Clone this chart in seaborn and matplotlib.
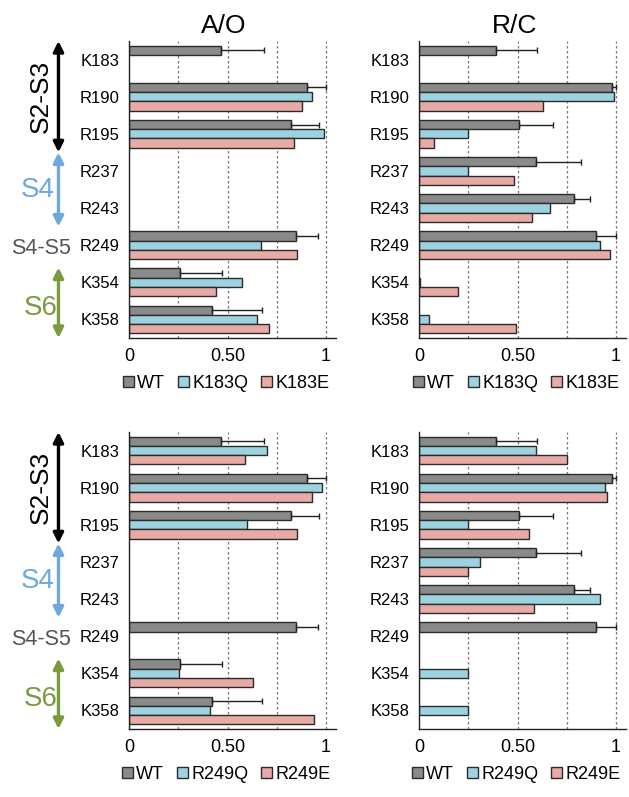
import numpy as np
import pandas as pd
import matplotlib
matplotlib.use("Agg")
import matplotlib.pyplot as plt
import seaborn as sns

# residues, top to bottom
residues = ["K183", "R190", "R195", "R237", "R243", "R249", "K354", "K358"]
nan = np.nan

# wild type (shared by both rows)
wt_ao = [0.465, 0.905, 0.82, nan, nan, 0.85, 0.26, 0.42]
wt_ao_err = [0.22, 0.095, 0.145, nan, nan, 0.11, 0.21, 0.255]
wt_rc = [0.39, 0.98, 0.51, 0.595, 0.785, 0.90, nan, nan]
wt_rc_err = [0.21, 0.02, 0.17, 0.225, 0.085, 0.10, nan, nan]

# K183 mutants
k183q_ao = [nan, 0.93, 0.99, nan, nan, 0.67, 0.575, 0.65]
k183e_ao = [nan, 0.88, 0.84, nan, nan, 0.855, 0.44, 0.71]
k183q_rc = [nan, 0.99, 0.25, 0.25, 0.665, 0.92, 0.005, 0.05]
k183e_rc = [nan, 0.63, 0.075, 0.48, 0.575, 0.968, 0.20, 0.49]

# R249 mutants
r249q_ao = [0.70, 0.98, 0.60, nan, nan, nan, 0.255, 0.41]
r249e_ao = [0.59, 0.93, 0.855, nan, nan, nan, 0.63, 0.94]
r249q_rc = [0.595, 0.945, 0.25, 0.31, 0.92, nan, 0.25, 0.25]
r249e_rc = [0.75, 0.955, 0.56, 0.25, 0.585, nan, nan, nan]

colors = ["#8a8a8a", "#9dd3e0", "#e8aaa5"]

sns.set_style("white")
plt.rcParams["font.family"] = ["Liberation Sans", "DejaVu Sans"]
plt.rcParams.update({"text.color": "black", "axes.labelcolor": "black",
                     "xtick.color": "black", "ytick.color": "black"})

fig = plt.figure(figsize=(6.29, 7.97), dpi=100)

W = 1.05 * 197 / 629
H = 297 / 797
positions = {
    (0, 0): [129 / 629, 1 - 338 / 797, W, H],
    (0, 1): [419 / 629, 1 - 338 / 797, W, H],
    (1, 0): [129 / 629, 1 - 729 / 797, W, H],
    (1, 1): [419 / 629, 1 - 729 / 797, W, H],
}

panels = [
    ((0, 0), "K183", wt_ao, wt_ao_err, k183q_ao, k183e_ao, "A/O"),
    ((0, 1), "K183", wt_rc, wt_rc_err, k183q_rc, k183e_rc, "R/C"),
    ((1, 0), "R249", wt_ao, wt_ao_err, r249q_ao, r249e_ao, None),
    ((1, 1), "R249", wt_rc, wt_rc_err, r249q_rc, r249e_rc, None),
]


def draw_panel(ax, mut, wt, wt_err, q, e, title):
    labels = ["WT", mut + "Q", mut + "E"]
    df = pd.DataFrame({
        "residue": residues * 3,
        "value": list(wt) + list(q) + list(e),
        "group": [labels[0]] * 8 + [labels[1]] * 8 + [labels[2]] * 8,
    }).dropna()
    sns.barplot(data=df, y="residue", x="value", hue="group", order=residues,
                hue_order=labels, palette=colors, width=0.75, orient="h",
                edgecolor="#2b2b2b", linewidth=1, saturation=1, ax=ax)

    # one-sided error bars on WT bars
    xs, ys, errs = [], [], []
    for p in ax.containers[0]:
        yc = p.get_y() + p.get_height() / 2
        i = int(round(yc))
        if np.isnan(wt_err[i]):
            continue
        xs.append(p.get_width())
        ys.append(yc)
        errs.append(wt_err[i])
    ax.errorbar(xs, ys, xerr=[np.zeros(len(errs)), errs], fmt="none",
                ecolor="#222222", elinewidth=1, capsize=2, capthick=1)

    ax.set_xlim(0, 1.05)
    ax.set_ylim(7.5, -0.5)
    ax.set_xlabel("")
    ax.set_ylabel("")
    ax.set_xticks([0, 0.25, 0.5, 0.75, 1])
    ax.set_xticklabels(["0", "", "0.50", "", "1"], fontsize=13)
    ax.tick_params(axis="x", direction="inout", length=6, width=1, pad=4, colors="#222222")
    ax.tick_params(axis="x", labelcolor="black")
    ax.set_yticks(range(8))
    ax.set_yticklabels(residues, fontsize=12)
    ax.tick_params(axis="y", length=0, pad=7)
    ax.set_yticks(np.arange(-0.5, 8, 1), minor=True)
    ax.tick_params(axis="y", which="minor", direction="inout", length=6, width=1, colors="#222222")
    for xg in [0.25, 0.5, 0.75, 1]:
        ax.axvline(xg, color="#777777", lw=0.9, ls=(0, (2, 2)), zorder=0)
    sns.despine(ax=ax)
    for s in ["left", "bottom"]:
        ax.spines[s].set_color("#222222")
        ax.spines[s].set_linewidth(1)

    sns.move_legend(ax, "center", bbox_to_anchor=(0.47, -0.152), ncol=3,
                    frameon=False, title=None, fontsize=13, handlelength=0.6,
                    handleheight=0.6, handletextpad=0.2, columnspacing=0.7,
                    borderaxespad=0)
    if title:
        ax.set_title(title, fontsize=19, pad=6, x=0.46)


def draw_regions(ax):
    tr = ax.get_yaxis_transform()
    ax_x = -0.341
    arrows = [(-0.5, 2.5, "black"), (2.5, 4.5, "#6fa8dc"), (5.6, 7.5, "#7b9a3d")]
    for y0, y1, c in arrows:
        ax.annotate("", xy=(ax_x, y1), xytext=(ax_x, y0), xycoords=tr, textcoords=tr,
                    arrowprops=dict(arrowstyle="<|-|>", color=c, lw=2.4,
                                    mutation_scale=15, shrinkA=0, shrinkB=0),
                    annotation_clip=False)
    ax.text(-0.424, 1.0, "S2-S3", transform=tr, rotation=90, ha="center",
            va="center", fontsize=19, color="black")
    ax.text(-0.439, 3.52, "S4", transform=tr, ha="center", va="center",
            fontsize=20, color="#6fa8dc")
    ax.text(-0.427, 5.08, "S4-S5", transform=tr, ha="center", va="center",
            fontsize=15.5, color="#555555")
    ax.text(-0.429, 6.69, "S6", transform=tr, ha="center", va="center",
            fontsize=20, color="#7b9a3d")


for key, mut, wt, wt_err, q, e, title in panels:
    ax = fig.add_axes(positions[key])
    draw_panel(ax, mut, wt, wt_err, q, e, title)
    if key[1] == 0:
        draw_regions(ax)

fig.savefig("out.png", dpi=100)
